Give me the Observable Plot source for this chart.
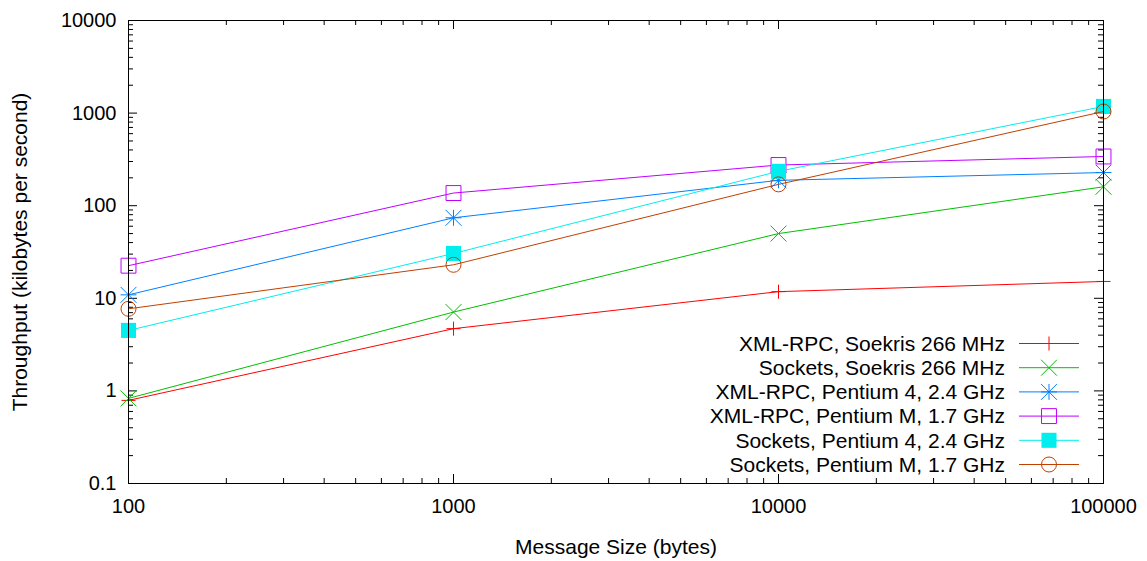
<!DOCTYPE html>
<html><head><meta charset="utf-8">
<script src="https://cdn.jsdelivr.net/npm/d3@7"></script>
<script src="https://cdn.jsdelivr.net/npm/@observablehq/plot@0.6"></script>
<style>
body{margin:0;background:#fff;font-family:"Liberation Sans",Arial,sans-serif;}
#wrap{position:relative;width:1147px;height:561px;}
#legend{position:absolute;left:0;top:0;pointer-events:none;}
</style></head><body><div id="wrap"></div>
<script>
// ---- data ----
const sizes = [100, 1000, 10000, 100000];
const seriesNames = [
  "XML-RPC, Soekris 266 MHz",
  "Sockets, Soekris 266 MHz",
  "XML-RPC, Pentium 4, 2.4 GHz",
  "XML-RPC, Pentium M, 1.7 GHz",
  "Sockets, Pentium 4, 2.4 GHz",
  "Sockets, Pentium M, 1.7 GHz"
];
const seriesColors = ["#ff0000", "#00c000", "#0080ff", "#c000ff", "#00eeee", "#c04000"];
const xmlSoekris  = [0.79, 4.7, 11.8, 15.2];
const sockSoekris = [0.83, 7.1, 50, 160];
const xmlP4       = [10.9, 74, 188, 228];
const xmlPM       = [22.5, 137, 275, 340];
const sockP4      = [4.5, 30.5, 235, 1180];
const sockPM      = [7.7, 23, 170, 1040];
const yTickLabels = [0.1, 1, 10, 100, 1000, 10000];
const xTickLabels = [100, 1000, 10000, 100000];

const allValues = [xmlSoekris, sockSoekris, xmlP4, xmlPM, sockP4, sockPM];
const rows = seriesNames.flatMap((name, i) => sizes.map((s, j) => ({series: name, size: s, value: allValues[i][j]})));

// marker specs (gnuplot point types 1..6)
const markerSpecs = [
  [{symbol: "plus", r: 4.6, fill: "none"}],
  [{symbol: "times", r: 7.3, fill: "none"}],
  [{symbol: "plus", r: 5.2, fill: "none"}, {symbol: "times", r: 7.3, fill: "none"}],
  [{symbol: "square2", r: 9.5, fill: "none"}],
  [{symbol: "square", r: 8.5, fill: "color"}],
  [{symbol: "circle", r: 7.5, fill: "none"}]
];

const W = 1147, H = 561, mL = 128, mR = 44, mT = 20, mB = 78;
const pw = W - mL - mR, ph = H - mT - mB;
const majorLen = 9, minorLen = 5;

const decades = d3.range(-1, 4);
const yMinor = decades.flatMap(k => d3.range(2, 10).map(m => m * Math.pow(10, k)));
const xMinor = d3.range(2, 5).flatMap(k => d3.range(2, 10).map(m => m * Math.pow(10, k)));

const tickMarks = [
  Plot.tickX(xTickLabels, {x: d => d, insetTop: ph - majorLen, stroke: "black"}),
  Plot.tickX(xTickLabels, {x: d => d, insetBottom: ph - majorLen, stroke: "black"}),
  Plot.tickX(xMinor, {x: d => d, insetTop: ph - minorLen, stroke: "black"}),
  Plot.tickX(xMinor, {x: d => d, insetBottom: ph - minorLen, stroke: "black"}),
  Plot.tickY(yTickLabels, {y: d => d, insetRight: pw - majorLen, stroke: "black"}),
  Plot.tickY(yTickLabels, {y: d => d, insetLeft: pw - majorLen, stroke: "black"}),
  Plot.tickY(yMinor, {y: d => d, insetRight: pw - minorLen, stroke: "black"}),
  Plot.tickY(yMinor, {y: d => d, insetLeft: pw - minorLen, stroke: "black"})
];

const seriesMarks = seriesNames.flatMap((name, i) => {
  const data = rows.filter(r => r.series === name);
  const col = seriesColors[i];
  return [
    Plot.line(data, {x: "size", y: "value", stroke: col, strokeWidth: 1}),
    ...markerSpecs[i].map(m => Plot.dot(data, {
      x: "size", y: "value", symbol: m.symbol, r: m.r,
      stroke: m.fill === "color" ? "none" : col,
      fill: m.fill === "color" ? col : "none",
      strokeWidth: 1
    }))
  ];
});

const chart = Plot.plot({
  width: W, height: H,
  marginLeft: mL, marginRight: mR, marginTop: mT, marginBottom: mB,
  style: {fontSize: "20px", fontFamily: "'Liberation Sans', Arial, sans-serif", color: "black", background: "white"},
  x: {type: "log", domain: [100, 100000]},
  y: {type: "log", domain: [0.1, 10000]},
  marks: [
    ...tickMarks,
    Plot.axisX({ticks: xTickLabels, tickSize: 0, tickPadding: 15, tickFormat: d => String(d), label: null}),
    Plot.axisX({ticks: [], tickSize: 0, fontSize: 21,
      label: "Message Size (bytes)", labelAnchor: "center", labelArrow: "none", labelOffset: 70}),
    Plot.axisY({ticks: yTickLabels, tickSize: 0, tickPadding: 12, tickFormat: d => String(d), label: null}),
    Plot.axisY({ticks: [], tickSize: 0, fontSize: 21,
      label: "Throughput (kilobytes per second)", labelAnchor: "center", labelArrow: "none", labelOffset: 116}),
    ...seriesMarks,
    Plot.frame({stroke: "black", strokeWidth: 1})
  ]
});
document.getElementById("wrap").appendChild(chart);

// ---- legend (inside plot, bottom right) ----
const lg = d3.select("#wrap").append("svg").attr("id", "legend").attr("width", W).attr("height", H)
  .style("font-family", "'Liberation Sans', Arial, sans-serif").style("font-size", "21px");
const textRight = 1005, lineX1 = 1019, lineX2 = 1079, markX = 1049, row0 = 343.5, rowStep = 24.2;
const symMap = {plus: d3.symbolPlus, times: d3.symbolTimes, square2: d3.symbolSquare2, square: d3.symbolSquare, circle: d3.symbolCircle};
seriesNames.forEach((name, i) => {
  const y = row0 + i * rowStep;
  const col = seriesColors[i];
  lg.append("text").attr("x", textRight).attr("y", y).attr("dy", "0.35em").attr("text-anchor", "end").attr("fill", "black").text(name);
  lg.append("line").attr("x1", lineX1).attr("x2", lineX2).attr("y1", y).attr("y2", y).attr("stroke", col).attr("stroke-width", 1);
  markerSpecs[i].forEach(m => {
    lg.append("path").attr("transform", `translate(${markX},${y})`)
      .attr("d", d3.symbol(symMap[m.symbol], Math.PI * m.r * m.r)())
      .attr("fill", m.fill === "color" ? col : "none")
      .attr("stroke", m.fill === "color" ? "none" : col).attr("stroke-width", 1);
  });
});
</script></body></html>
